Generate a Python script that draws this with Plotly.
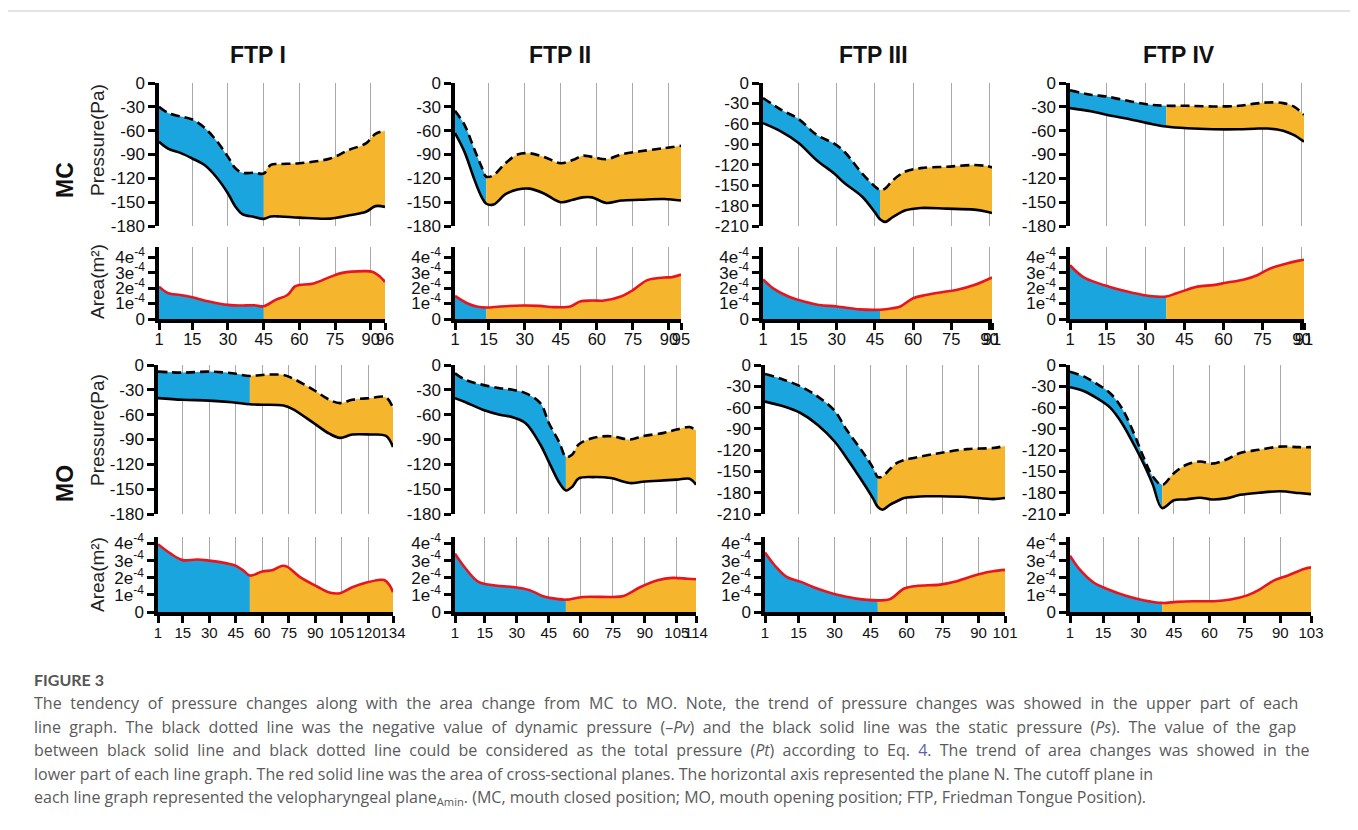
import plotly.graph_objects as go

W, H = 1358, 830
PAGE_OFFSET = 8   # default <body> margin of the written html page

# ------------------------------------------------------------------ data
COL_TITLES = ["FTP I", "FTP II", "FTP III", "FTP IV"]
ROW_TITLES = ["MC", "MO"]

P180 = [0, -30, -60, -90, -120, -150, -180]
P210 = [0, -30, -60, -90, -120, -150, -180, -210]
AREA_TICKS = [0, 1, 2, 3, 4]            # area in units of 1e-4 m^2

# ---- MC, FTP I
MC1_N, MC1_CUT = 96, 45
MC1_PX = [1, 5, 10, 15, 20, 25, 30, 33, 36, 41, 45, 48, 52, 60, 73, 81, 88, 92, 96]
MC1_PV = [-30, -38, -42, -46, -56, -72, -93, -107, -113, -113, -114, -103, -102, -101, -95, -84, -76, -64, -60]
MC1_PS = [-74, -83, -88, -95, -103, -118, -139, -155, -165, -168.6, -171, -168, -168, -169.5, -170.7, -166.5, -162, -155, -156]
MC1_AX = [1, 5, 10, 15, 22, 30, 35, 41, 45, 50, 55, 58, 60, 66, 73, 78, 87, 91, 94, 96]
MC1_AREA = [2.09, 1.66, 1.55, 1.40, 1.13, 0.91, 0.87, 0.89, 0.82, 1.23, 1.55, 2.09, 2.19, 2.30, 2.72, 2.98, 3.09, 3.04, 2.72, 2.40]
MC1_XT = [1, 15, 30, 45, 60, 75, 90, 96]

# ---- MC, FTP II
MC2_N, MC2_CUT = 95, 14
MC2_PX = [1, 5, 9, 12, 14, 17, 22, 27, 32, 38, 45, 50, 54, 58, 64, 70, 78, 88, 95]
MC2_PV = [-35, -53, -83, -105, -118, -116, -101, -90, -88.5, -93, -101, -97, -91.5, -93, -96, -90, -86, -82, -79]
MC2_PS = [-63, -87, -121, -143, -152, -153, -140, -134, -133, -139, -150, -147, -144, -144, -151, -148, -147, -146, -148]
MC2_AX = [1, 6, 10, 14, 20, 29, 36, 42, 49, 53, 58, 63, 70, 75, 81, 88, 91, 95]
MC2_AREA = [1.49, 1.02, 0.81, 0.74, 0.81, 0.87, 0.85, 0.77, 0.81, 1.13, 1.19, 1.19, 1.45, 1.87, 2.51, 2.68, 2.70, 2.87]
MC2_XT = [1, 15, 30, 45, 60, 75, 90, 95]

# ---- MC, FTP III
MC3_N, MC3_CUT = 91, 47
MC3_PX = [1, 8, 15, 22, 29, 33, 40, 45, 47, 49, 52, 57, 63, 73, 84, 89, 91]
MC3_PV = [-22, -39, -53, -76, -89, -101, -133, -152, -157, -155, -143, -130, -125, -123, -120.5, -122, -124]
MC3_PS = [-59, -71, -88, -113, -133, -147, -167, -190, -200, -204, -197, -187, -183.5, -184.5, -186, -189, -191]
MC3_AX = [1, 5, 11, 15, 23, 30, 39, 47, 52, 55, 60, 65, 73, 77, 84, 91]
MC3_AREA = [2.55, 1.98, 1.45, 1.23, 0.91, 0.81, 0.62, 0.60, 0.70, 0.81, 1.34, 1.55, 1.77, 1.87, 2.19, 2.68]
MC3_XT = [1, 15, 30, 45, 60, 75, 90, 91]

# ---- MC, FTP IV
MC4_N, MC4_CUT = 91, 38
MC4_PX = [1, 9, 15, 24, 32, 38, 46, 56, 66, 72, 77, 83, 87, 91]
MC4_PV = [-9.3, -14.8, -17, -23, -27.4, -28.7, -28.7, -29.5, -28.7, -26, -24.5, -25.3, -29.5, -40]
MC4_PS = [-31.6, -35.5, -40, -45.5, -51.3, -54.8, -57, -58.2, -58.2, -57.5, -57.3, -60, -65.4, -73.8]
MC4_AX = [1, 6, 12, 16, 23, 29, 34, 38, 42, 50, 56, 61, 68, 73, 78, 84, 89, 91]
MC4_AREA = [3.47, 2.72, 2.30, 2.09, 1.77, 1.55, 1.45, 1.45, 1.66, 2.09, 2.19, 2.34, 2.55, 2.83, 3.26, 3.57, 3.77, 3.83]
MC4_XT = [1, 15, 30, 45, 60, 75, 90, 91]

# ---- MO, FTP I
MO1_N, MO1_CUT = 134, 53
MO1_PX = [1, 15, 30, 43, 53, 60, 72, 77, 89, 98, 104, 111, 121, 130, 134]
MO1_PV = [-8, -9.2, -8, -10, -13.3, -12, -12, -16, -30, -42, -46, -42, -40, -39, -52]
MO1_PS = [-40, -42, -43, -45, -47.4, -48, -49, -53, -70, -83, -88, -84, -84, -85.6, -99]
MO1_AX = [1, 8, 15, 23, 30, 40, 44, 49, 53, 60, 66, 71, 74, 81, 91, 98, 104, 111, 119, 126, 129, 132, 134]
MO1_AREA = [3.96, 3.42, 3.03, 3.07, 3.00, 2.84, 2.74, 2.45, 2.13, 2.36, 2.45, 2.69, 2.65, 2.07, 1.49, 1.14, 1.10, 1.45, 1.72, 1.87, 1.87, 1.58, 1.16]
MO1_XT = [1, 15, 30, 45, 60, 75, 90, 105, 120, 134]

# ---- MO, FTP II
MO2_N, MO2_CUT = 114, 53
MO2_PX = [1, 6, 14, 22, 28, 34, 41, 45, 50, 53, 56, 59, 66, 74, 83, 89, 99, 105, 111, 114]
MO2_PV = [-10, -18, -24, -28, -30, -34, -46, -70, -94, -111, -108, -96, -88, -86, -90, -86, -82, -78, -75, -79]
MO2_PS = [-40, -45, -54, -60, -63, -70, -96, -117, -142.6, -151.5, -147, -137, -135.4, -136.6, -142.6, -141, -139.4, -138.5, -137.5, -144.6]
MO2_AX = [1, 6, 12, 19, 28, 36, 42, 48, 53, 61, 75, 80, 88, 96, 103, 110, 114]
MO2_AREA = [3.41, 2.54, 1.76, 1.56, 1.46, 1.27, 0.94, 0.78, 0.72, 0.88, 0.88, 0.94, 1.46, 1.85, 1.99, 1.94, 1.91]
MO2_XT = [1, 15, 30, 45, 60, 75, 90, 105, 114]

# ---- MO, FTP III
MO3_N, MO3_CUT = 101, 48
MO3_PX = [1, 9, 16, 23, 30, 35, 42, 46, 48, 50, 53, 56, 59, 63, 68, 74, 85, 96, 101]
MO3_PV = [-12.7, -21, -30.5, -44.5, -64.5, -91.4, -124, -145, -158, -157, -147, -138, -134, -131, -127.5, -124, -118.6, -117, -114]
MO3_PS = [-51.6, -58.6, -68, -84.4, -107.8, -131, -166.4, -188, -200, -204, -197, -192, -187.5, -186, -185, -185, -186, -189, -187.5]
MO3_AX = [1, 5, 10, 16, 21, 27, 32, 39, 48, 53, 59, 64, 74, 80, 85, 91, 96, 101]
MO3_AREA = [3.47, 2.73, 2.05, 1.76, 1.46, 1.17, 0.98, 0.78, 0.68, 0.74, 1.37, 1.52, 1.60, 1.76, 1.99, 2.24, 2.38, 2.46]
MO3_XT = [1, 15, 30, 45, 60, 75, 90, 101]

# ---- MO, FTP IV
MO4_N, MO4_CUT = 103, 40
MO4_PX = [1, 7, 12, 18, 23, 28, 32, 36, 40, 45, 50, 56, 61, 67, 73, 81, 90, 98, 103]
MO4_PV = [-9.4, -16.4, -25.8, -39.8, -61, -96, -129, -157, -169, -152.4, -141, -136, -139, -133.5, -124, -119.5, -115, -115.8, -115.8]
MO4_PS = [-31.4, -37, -46, -60, -82, -112, -138, -168, -201.6, -190.5, -189.5, -187, -189.5, -188, -183, -180, -178, -180.5, -182]
MO4_AX = [1, 5, 11, 17, 25, 32, 40, 46, 53, 62, 69, 76, 81, 87, 93, 100, 103]
MO4_AREA = [3.29, 2.50, 1.72, 1.33, 0.93, 0.69, 0.53, 0.59, 0.63, 0.63, 0.73, 0.97, 1.29, 1.82, 2.12, 2.51, 2.61]
MO4_XT = [1, 15, 30, 45, 60, 75, 90, 103]

CAPTION_HEAD = "FIGURE 3"
CAPTION_LINES = [
    "The tendency of pressure changes along with the area change from MC to MO. Note, the trend of pressure changes was showed in the upper part of each",
    "line graph. The black dotted line was the negative value of dynamic pressure (\u2013<i>Pv</i>) and the black solid line was the static pressure (<i>Ps</i>). The value of the gap",
    "between black solid line and black dotted line could be considered as the total pressure (<i>Pt</i>) according to Eq. <span style='color:#5a5fb0'>4</span>. The trend of area changes was showed in the",
    "lower part of each line graph. The red solid line was the area of cross-sectional planes. The horizontal axis represented the plane N. The cutoff plane in",
    "each line graph represented the velopharyngeal plane<sub>Amin</sub>. (MC, mouth closed position; MO, mouth opening position; FTP, Friedman Tongue Position).",
]
CAPTION_WORDSPACE = [4.5, 4.2, 4.1, 0, 0]   # the first three lines are justified in the source

# ------------------------------------------------------------------ style / geometry
BLUE = "#1aa5de"
ORANGE = "#f5b52c"
RED = "#e8151f"
GRID = "#a9a9a9"
FONT = "Liberation Sans, Arial, sans-serif"
YTICKFONT = dict(family=FONT, size=17, color="#111")
XTICKFONT = {"MC": dict(family=FONT, size=16.5, color="#111"),
             "MO": dict(family=FONT, size=15, color="#111")}
XTICK_STANDOFF = {"MC": -5, "MO": -3}
CAPFONT = "Open Sans, Lato, sans-serif"

XPIX = {"MC": [(159, 385), (455, 681), (763, 992), (1070, 1304)],
        "MO": [(158, 393), (455, 696), (765, 1005), (1070, 1311)]}
YPIX = {"MC": ((83, 226), (247, 319)), "MO": ((365, 514), (537, 612))}
AREA_TOP = {"MC": 4.65, "MO": 4.38}

panels = [
    ("MC", 0, MC1_N, MC1_CUT, MC1_PX, MC1_PV, MC1_PS, MC1_AX, MC1_AREA, MC1_XT, P180),
    ("MC", 1, MC2_N, MC2_CUT, MC2_PX, MC2_PV, MC2_PS, MC2_AX, MC2_AREA, MC2_XT, P180),
    ("MC", 2, MC3_N, MC3_CUT, MC3_PX, MC3_PV, MC3_PS, MC3_AX, MC3_AREA, MC3_XT, P210),
    ("MC", 3, MC4_N, MC4_CUT, MC4_PX, MC4_PV, MC4_PS, MC4_AX, MC4_AREA, MC4_XT, P180),
    ("MO", 0, MO1_N, MO1_CUT, MO1_PX, MO1_PV, MO1_PS, MO1_AX, MO1_AREA, MO1_XT, P180),
    ("MO", 1, MO2_N, MO2_CUT, MO2_PX, MO2_PV, MO2_PS, MO2_AX, MO2_AREA, MO2_XT, P180),
    ("MO", 2, MO3_N, MO3_CUT, MO3_PX, MO3_PV, MO3_PS, MO3_AX, MO3_AREA, MO3_XT, P210),
    ("MO", 3, MO4_N, MO4_CUT, MO4_PX, MO4_PV, MO4_PS, MO4_AX, MO4_AREA, MO4_XT, P210),
]


def fx(p):
    return (p - PAGE_OFFSET) / W


def fy(p):
    return 1 - (p - PAGE_OFFSET) / H


def seg(x, y, lo, hi):
    pts = [(a, b) for a, b in zip(x, y) if lo <= a <= hi]
    return [p[0] for p in pts], [p[1] for p in pts]


fig = go.Figure()
layout = {}
k = 0


def axname(k):
    return ("xaxis" if k == 1 else f"xaxis{k}", "yaxis" if k == 1 else f"yaxis{k}",
            "x" if k == 1 else f"x{k}", "y" if k == 1 else f"y{k}")


LINE_AX = dict(showline=True, linewidth=3.5, linecolor="black", ticks="outside",
               ticklen=7, tickwidth=3, tickcolor="black", zeroline=False,
               showgrid=False, automargin=False, fixedrange=True, tickangle=0)

for (row, col, n, cut, px, pv, ps, axv, area, xt, yt) in panels:
    x0, x1 = XPIX[row][col]
    (pt, pb), (at, ab) = YPIX[row]
    grid_vals = [v for v in xt if v % 15 == 0 and v < n]
    minor = dict(tickmode="array", tickvals=grid_vals, showgrid=True, gridcolor=GRID,
                 gridwidth=1, ticks="")

    # ---------------- pressure subplot
    k += 1
    xa, ya, xr, yr = axname(k)
    layout[xa] = dict(domain=[fx(x0), fx(x1)], range=[1, n], anchor=yr, showline=False,
                      showticklabels=False, ticks="", showgrid=False, zeroline=False,
                      minor=minor, automargin=False, fixedrange=True)
    layout[ya] = dict(LINE_AX, domain=[fy(pb), fy(pt)], range=[yt[-1], 0], anchor=xr,
                      tickvals=yt, ticktext=[str(v) for v in yt], tickfont=YTICKFONT)
    for lo, hi, color in ((1, cut, BLUE), (cut, n, ORANGE)):
        sx, sps = seg(px, ps, lo, hi)
        _, spv = seg(px, pv, lo, hi)
        fig.add_trace(go.Scatter(x=sx, y=sps, xaxis=xr, yaxis=yr, mode="lines",
                                 line=dict(width=0, shape="spline", color=color),
                                 hoverinfo="skip", showlegend=False))
        fig.add_trace(go.Scatter(x=sx, y=spv, xaxis=xr, yaxis=yr, mode="lines",
                                 line=dict(width=0, shape="spline", color=color),
                                 fill="tonexty", fillcolor=color,
                                 hoverinfo="skip", showlegend=False))
    fig.add_trace(go.Scatter(x=px, y=ps, xaxis=xr, yaxis=yr, mode="lines", name="Ps",
                             line=dict(width=2.6, shape="spline", color="black"),
                             showlegend=False))
    fig.add_trace(go.Scatter(x=px, y=pv, xaxis=xr, yaxis=yr, mode="lines", name="-Pv",
                             line=dict(width=2.6, shape="spline", color="black", dash="9px,5px"),
                             showlegend=False))

    # ---------------- area subplot
    k += 1
    xa, ya, xr, yr = axname(k)
    layout[xa] = dict(LINE_AX, domain=[fx(x0), fx(x1)], range=[1, n], anchor=yr,
                      tickvals=xt, ticktext=[str(v) for v in xt], tickfont=XTICKFONT[row],
                      ticklabelstandoff=XTICK_STANDOFF[row], minor=minor)
    layout[ya] = dict(LINE_AX, domain=[fy(ab), fy(at)], range=[0, AREA_TOP[row]], anchor=xr,
                      tickvals=AREA_TICKS,
                      ticktext=["0" if v == 0 else f"{v}e<sup>-4</sup>" for v in AREA_TICKS],
                      tickfont=YTICKFONT)
    for lo, hi, color in ((1, cut, BLUE), (cut, n, ORANGE)):
        sx, sa = seg(axv, area, lo, hi)
        fig.add_trace(go.Scatter(x=sx, y=sa, xaxis=xr, yaxis=yr, mode="lines",
                                 line=dict(width=0, shape="spline", color=color),
                                 fill="tozeroy", fillcolor=color,
                                 hoverinfo="skip", showlegend=False))
    fig.add_trace(go.Scatter(x=axv, y=area, xaxis=xr, yaxis=yr, mode="lines", name="Area",
                             line=dict(width=2.6, shape="spline", color=RED),
                             showlegend=False))

annotations = []
TITLE_X = [258, 560, 874, 1179]
for t, cx in zip(COL_TITLES, TITLE_X):
    annotations.append(dict(text=f"<b>{t}</b>", x=fx(cx), y=fy(55), xref="paper", yref="paper",
                            showarrow=False, xanchor="center", yanchor="middle",
                            font=dict(family=FONT, size=23, color="#111")))
for t, cy in zip(ROW_TITLES, [180, 483]):
    annotations.append(dict(text=f"<b>{t}</b>", x=fx(65), y=fy(cy), xref="paper", yref="paper",
                            showarrow=False, textangle=-90, xanchor="center", yanchor="middle",
                            font=dict(family=FONT, size=23, color="#111")))
for t, cy in [("Pressure(Pa)", 140), ("Area(m\u00b2)", 282), ("Pressure(Pa)", 430), ("Area(m\u00b2)", 575)]:
    annotations.append(dict(text=t, x=fx(97), y=fy(cy), xref="paper", yref="paper",
                            showarrow=False, textangle=-90, xanchor="center", yanchor="middle",
                            font=dict(family=FONT, size=19, color="#222")))

annotations.append(dict(text=f"<b>{CAPTION_HEAD}</b>", x=fx(32), y=fy(679), xref="paper", yref="paper",
                        showarrow=False, xanchor="left", yanchor="middle",
                        font=dict(family="Lato, sans-serif", size=16, color="#555")))
for i, (line, ws) in enumerate(zip(CAPTION_LINES, CAPTION_WORDSPACE)):
    txt = f"<span style='word-spacing:{ws}px'>{line}</span>" if ws else line
    annotations.append(dict(text=txt, x=fx(32), y=fy(703 + i * 23.6), xref="paper", yref="paper",
                            showarrow=False, xanchor="left", yanchor="middle",
                            font=dict(family=CAPFONT, size=16, color="#5a5a5a")))

shapes = [
    dict(type="line", xref="paper", yref="paper", x0=fx(7), x1=1, y0=fy(11), y1=fy(11),
         line=dict(color="#c8c8c8", width=1)),
    dict(type="line", xref="paper", yref="paper", x0=fx(7.5), x1=fx(7.5), y0=fy(11), y1=0,
         line=dict(color="#c8c8c8", width=1)),
]

fig.update_layout(width=W, height=H, margin=dict(l=0, r=0, t=0, b=0, autoexpand=False),
                  paper_bgcolor="white", plot_bgcolor="rgba(0,0,0,0)",
                  annotations=annotations, shapes=shapes, **layout)

fig.write_html("out.html")
